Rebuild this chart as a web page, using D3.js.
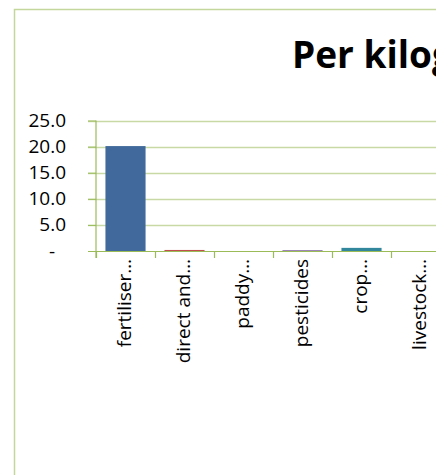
<!DOCTYPE html>
<html><head><meta charset="utf-8">
<script src="https://cdn.jsdelivr.net/npm/d3@7"></script>
<style>body{margin:0;background:#fff}svg{display:block}</style>
</head><body>
<script>
const categories = ["fertiliser\u2026", "direct and\u2026", "paddy\u2026", "pesticides", "crop\u2026", "livestock\u2026"];
const values = [20.1, 0.2, 0.0, 0.15, 0.6, 0.0];
const barColors = ["#41699C", "#C0504D", "#9BBB59", "#7F64A2", "#33879C", "#F79646"];
const yTicks = [0, 5, 10, 15, 20, 25];
const title = "Per kilogram";

const W = 445, H = 475;
const svg = d3.select("body").append("svg").attr("width", W).attr("height", H);
svg.append("defs").append("clipPath").attr("id", "clip")
  .append("rect").attr("x", 0).attr("y", 0).attr("width", 436).attr("height", H);
const g0 = svg.append("g").attr("clip-path", "url(#clip)");

g0.append("rect").attr("x", 14.5).attr("y", 9.5).attr("width", 800).attr("height", 800)
  .attr("fill", "#fff").attr("stroke", "#C3D69B").attr("stroke-width", 1.5);

g0.append("text").attr("x", 292).attr("y", 68).text(title)
  .attr("font-family", "Open Sans, sans-serif").attr("font-weight", "bold")
  .attr("font-size", 37).attr("fill", "#000");

const left = 96, zeroY = 251;
const x = d3.scaleBand().domain(categories).range([left, left + 59 * 6]).paddingInner(0.32).paddingOuter(0.16);
const y = d3.scaleLinear().domain([0, 25]).range([zeroY, 120.5]);

g0.append("g").selectAll("line").data(yTicks.filter(d => d > 0)).join("line")
  .attr("x1", left - 8).attr("x2", 800)
  .attr("y1", d => Math.round(y(d)) + 0.5).attr("y2", d => Math.round(y(d)) + 0.5)
  .attr("stroke", "#C8D9A5").attr("stroke-width", 1.5);

g0.append("g").selectAll("rect").data(values).join("rect")
  .attr("x", (d, i) => x(categories[i]))
  .attr("width", x.bandwidth())
  .attr("y", d => y(d))
  .attr("height", d => zeroY - y(d))
  .attr("fill", (d, i) => barColors[i]);

const yAxis = d3.axisLeft(y).tickValues(yTicks).tickSize(8).tickPadding(22)
  .tickFormat(d => d === 0 ? "-" : d3.format(".1f")(d));
const ya = g0.append("g").attr("transform", `translate(${left},0)`).call(yAxis);
ya.attr("font-family", "Open Sans, sans-serif").attr("font-size", 19);
ya.select(".domain").attr("stroke", "#9BBB59").attr("stroke-width", 1.2).attr("d", `M0,${y(25)}V${zeroY + 7}`);
ya.selectAll(".tick line").attr("stroke", "#9BBB59");
ya.selectAll(".tick text").attr("fill", "#000");
ya.selectAll(".tick").filter(d => d === 0).select("text").attr("x", -41);

const xa = g0.append("g");
xa.append("line").attr("x1", left - 8).attr("x2", 800).attr("y1", zeroY + 0.5).attr("y2", zeroY + 0.5)
  .attr("stroke", "#9BBB59").attr("stroke-width", 1.2);
xa.selectAll("line.t").data(d3.range(categories.length + 1)).join("line").attr("class", "t")
  .attr("x1", i => left + i * x.step() + 0.5).attr("x2", i => left + i * x.step() + 0.5)
  .attr("y1", zeroY).attr("y2", zeroY + 7)
  .attr("stroke", "#9BBB59").attr("stroke-width", 1.2);

xa.selectAll("text").data(categories).join("text")
  .attr("transform", d => `translate(${x(d) + x.bandwidth() / 2 + 5},${zeroY + 8}) rotate(-90)`)
  .attr("text-anchor", "end")
  .attr("font-family", "Open Sans, sans-serif").attr("font-size", 19).attr("fill", "#000")
  .text(d => d);
</script>
</body></html>
